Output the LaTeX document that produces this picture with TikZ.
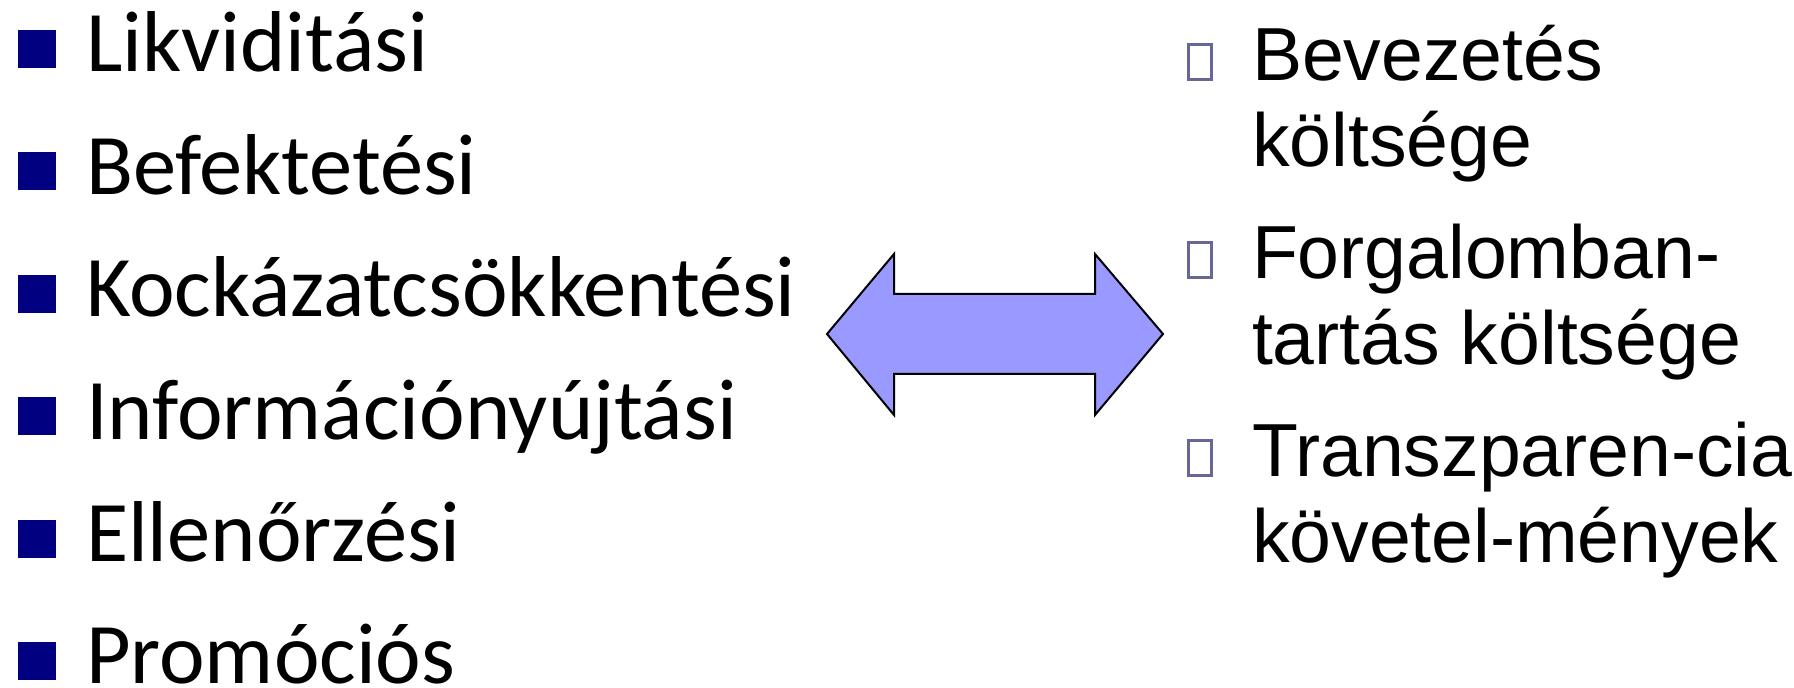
\documentclass[tikz,border=0pt]{standalone}
\usepackage{fontspec}
\newfontfamily\leftfont{Carlito}
\newfontfamily\rightfont{Liberation Sans}
\definecolor{bulletnavy}{RGB}{0,0,128}
\definecolor{bulletgray}{RGB}{102,102,153}
\definecolor{arrowfill}{RGB}{153,153,255}
\tikzset{
  lefttext/.style={anchor=base west, inner sep=0pt, outer sep=0pt, font=\leftfont\fontsize{43.2}{52}\selectfont},
  righttext/.style={anchor=base west, inner sep=0pt, outer sep=0pt, font=\rightfont\fontsize{37.6}{45}\selectfont},
  leftbullet/.style={fill=bulletnavy, inner sep=0pt, minimum size=19pt, draw=none},
  rightbullet/.style={draw=bulletgray, line width=1.8pt, inner sep=0pt, minimum width=11.5pt, minimum height=17.5pt},
  dblarrow/.style={fill=arrowfill, draw=black, line width=1pt, line join=miter}
}
\begin{document}
\begin{tikzpicture}[x=0.5pt,y=-0.5pt]
\useasboundingbox (0,0) rectangle (1794,688);
% left list
\node[leftbullet] (lb1) at (37,49) {};
\node[lefttext] (l1) at (86,72) {Likviditási};
\node[leftbullet] (lb2) at (37,171.4) {};
\node[lefttext] (l2) at (86,194.4) {Befektetési};
\node[leftbullet] (lb3) at (37,293.8) {};
\node[lefttext] (l3) at (86,316.8) {Kockázatcsökkentési};
\node[leftbullet] (lb4) at (37,416.2) {};
\node[lefttext] (l4) at (86,439.2) {Információnyújtási};
\node[leftbullet] (lb5) at (37,538.6) {};
\node[lefttext] (l5) at (86,561.6) {Ellenőrzési};
\node[leftbullet] (lb6) at (37,661) {};
\node[lefttext] (l6) at (86,684) {Promóciós};
% double arrow
\draw[dblarrow] (827,334) -- (894,254) -- (894,294) -- (1095,294) -- (1095,254)
  -- (1163,334) -- (1095,415) -- (1095,374) -- (894,374) -- (894,415) -- cycle;
% right list
\node[rightbullet] (rb1) at (1200,62) {};
\node[righttext] (r1a) at (1252,81) {Bevezetés};
\node[righttext] (r1b) at (1252,167) {költsége};
\node[rightbullet] (rb2) at (1200,260) {};
\node[righttext] (r2a) at (1252,279) {Forgalomban-};
\node[righttext] (r2b) at (1252,365) {tartás költsége};
\node[rightbullet] (rb3) at (1200,458) {};
\node[righttext] (r3a) at (1252,477) {Transzparen-cia};
\node[righttext] (r3b) at (1252,563) {követel-mények};
\end{tikzpicture}
\end{document}
